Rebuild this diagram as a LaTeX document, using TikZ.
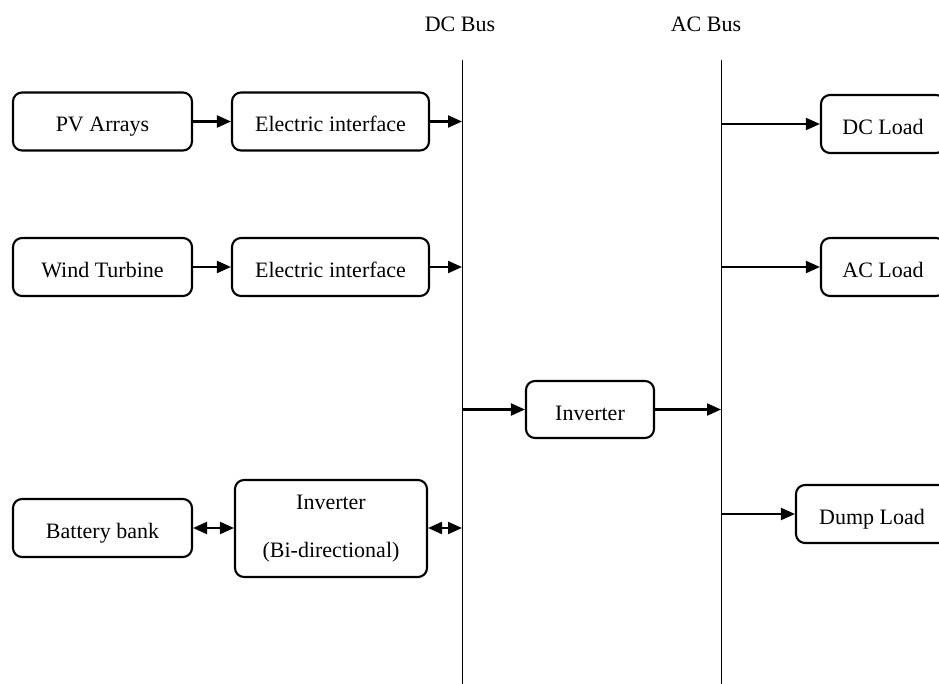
\documentclass[tikz,border=0pt]{standalone}
\usepackage{fontspec}
\setmainfont{Liberation Serif}
\usetikzlibrary{arrows.meta}
\begin{document}
\begin{tikzpicture}[x=1pt,y=1pt,
  blk/.style={draw, line width=2.1pt, rounded corners=9pt, inner sep=0pt, align=center,
    text height=21pt, text depth=0pt,
    font=\fontsize{22}{27}\selectfont},
  bus/.style={line width=0.9pt},
  lbl/.style={font=\fontsize{22}{27}\selectfont, inner sep=0pt},
  arr/.style={line width=2.1pt, -{Triangle[length=14pt,width=12pt]}},
  darr/.style={line width=2.1pt, {Triangle[length=14pt,width=12pt]}-{Triangle[length=14pt,width=12pt]}}]
\useasboundingbox (0,0) rectangle (939,-684);
\clip (0,0) rectangle (939,-684);
% buses
\coordinate (dctop) at (462,-60);
\coordinate (dcbot) at (462,-684);
\coordinate (actop) at (721,-60);
\coordinate (acbot) at (721,-684);
\draw[bus] (dctop) -- (dcbot);
\draw[bus] (actop) -- (acbot);
\node[lbl] (dclbl) at (460,-24) {DC Bus};
\node[lbl] (aclbl) at (706,-24) {AC Bus};
% left blocks
\node[blk, minimum width=179pt, minimum height=58pt] (pv) at (102.5,-121.5) {PV Arrays};
\node[blk, minimum width=197pt, minimum height=58pt] (ei1) at (330.5,-121.5) {Electric interface};
\node[blk, minimum width=179pt, minimum height=58pt] (wt) at (102.5,-267) {Wind Turbine};
\node[blk, minimum width=197pt, minimum height=58pt] (ei2) at (330.5,-267) {Electric interface};
\node[blk, minimum width=179pt, minimum height=58pt] (bat) at (102.5,-528) {Battery bank};
\node[blk, minimum width=192pt, minimum height=97pt, text height=, text depth=] (binv) at (331,-528.5) {Inverter\\[21pt](Bi-directional)};
% middle inverter
\node[blk, minimum width=128pt, minimum height=57pt] (inv) at (590,-409.5) {Inverter};
% loads
\node[blk, minimum width=124pt, minimum height=58pt] (dcl) at (883,-124) {DC Load};
\node[blk, minimum width=124pt, minimum height=58pt] (acl) at (883,-267) {AC Load};
\node[blk, minimum width=152pt, minimum height=58pt] (dump) at (872,-514) {Dump Load};
% connectors
\draw[arr] (pv.east) -- (ei1.west);
\draw[arr] (ei1.east) -- (ei1.east -| dctop);
\draw[arr] (wt.east) -- (ei2.west);
\draw[arr] (ei2.east) -- (ei2.east -| dctop);
\draw[darr] (bat.east) -- (binv.west |- bat.east);
\draw[darr] (binv.east |- bat.east) -- (bat.east -| dctop);
\draw[arr] (inv.west -| dctop) -- (inv.west);
\draw[arr] (inv.east) -- (inv.east -| actop);
\draw[arr] (dcl.west -| actop) -- (dcl.west);
\draw[arr] (acl.west -| actop) -- (acl.west);
\draw[arr] (dump.west -| actop) -- (dump.west);
\end{tikzpicture}
\end{document}
